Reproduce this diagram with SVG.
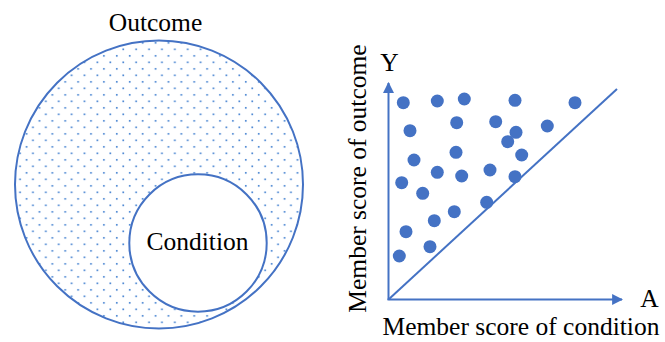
<svg xmlns="http://www.w3.org/2000/svg" width="665" height="342" viewBox="0 0 665 342">
<style>
text{font-family:"Liberation Serif","Times New Roman",Times,"DejaVu Serif",serif;font-size:25.5px;fill:#000}
.ln{stroke:#4472c4;stroke-width:2}
.dot{fill:#4472c4}
.pd{fill:#4a86d2}
</style>
<defs>
<pattern id="dots" patternUnits="userSpaceOnUse" x="3.9" y="7.05" width="12.9" height="13">
<rect class="pd" x="2.4" y="2.45" width="1.7" height="1.7"/>
<rect class="pd" x="8.85" y="8.95" width="1.7" height="1.7"/>
</pattern>
<marker id="arr" viewBox="0 0 10 10" refX="9" refY="5" markerWidth="5.5" markerHeight="5.5" orient="auto" markerUnits="strokeWidth">
<path d="M0,0 L10,5 L0,10 Z" fill="#4472c4"/>
</marker>
</defs>
<rect width="665" height="342" fill="#fff"/>
<g id="outcome">
<circle cx="159" cy="184.5" r="144" style="fill:url(#dots)" class="ln"/>
<text x="155.5" y="31" text-anchor="middle">Outcome</text>
</g>
<g id="condition">
<circle cx="198" cy="243" r="68.7" style="fill:#fff" class="ln"/>
<text x="197.5" y="249.5" text-anchor="middle">Condition</text>
</g>
<g id="connectors" style="fill:none">
<line class="ln" x1="388.5" y1="300" x2="388.5" y2="83" marker-end="url(#arr)"/>
<line class="ln" x1="387.5" y1="299.5" x2="622" y2="299.5" marker-end="url(#arr)"/>
<line class="ln" x1="388.5" y1="299.5" x2="617" y2="89"/>
</g>
<g id="axis-labels">
<text x="649.5" y="306.5" text-anchor="middle">A</text>
<text x="389.5" y="70.5" text-anchor="middle">Y</text>
<text x="521" y="335" text-anchor="middle">Member score of condition</text>
<text transform="translate(365.5,178.5) rotate(-90)" text-anchor="middle">Member score of outcome</text>
</g>
<g id="points">
<circle class="dot" cx="403.3" cy="102.7" r="6.5"/>
<circle class="dot" cx="437.3" cy="101" r="6.5"/>
<circle class="dot" cx="464.3" cy="99" r="6.5"/>
<circle class="dot" cx="515" cy="100.3" r="6.5"/>
<circle class="dot" cx="575" cy="102.7" r="6.5"/>
<circle class="dot" cx="410" cy="130.7" r="6.5"/>
<circle class="dot" cx="456.7" cy="122.7" r="6.5"/>
<circle class="dot" cx="495.7" cy="121.7" r="6.5"/>
<circle class="dot" cx="516" cy="132.3" r="6.5"/>
<circle class="dot" cx="507.7" cy="141.7" r="6.5"/>
<circle class="dot" cx="547.3" cy="126" r="6.5"/>
<circle class="dot" cx="414" cy="160" r="6.5"/>
<circle class="dot" cx="456" cy="152.3" r="6.5"/>
<circle class="dot" cx="521.7" cy="155" r="6.5"/>
<circle class="dot" cx="401.7" cy="182.7" r="6.5"/>
<circle class="dot" cx="437.3" cy="172.3" r="6.5"/>
<circle class="dot" cx="461.7" cy="176" r="6.5"/>
<circle class="dot" cx="490" cy="170" r="6.5"/>
<circle class="dot" cx="515" cy="176.7" r="6.5"/>
<circle class="dot" cx="422.7" cy="193.3" r="6.5"/>
<circle class="dot" cx="486.7" cy="202.3" r="6.5"/>
<circle class="dot" cx="454.3" cy="211.7" r="6.5"/>
<circle class="dot" cx="434.3" cy="220.7" r="6.5"/>
<circle class="dot" cx="406" cy="231.7" r="6.5"/>
<circle class="dot" cx="430" cy="246.7" r="6.5"/>
<circle class="dot" cx="399.3" cy="256" r="6.5"/>
</g>
</svg>
